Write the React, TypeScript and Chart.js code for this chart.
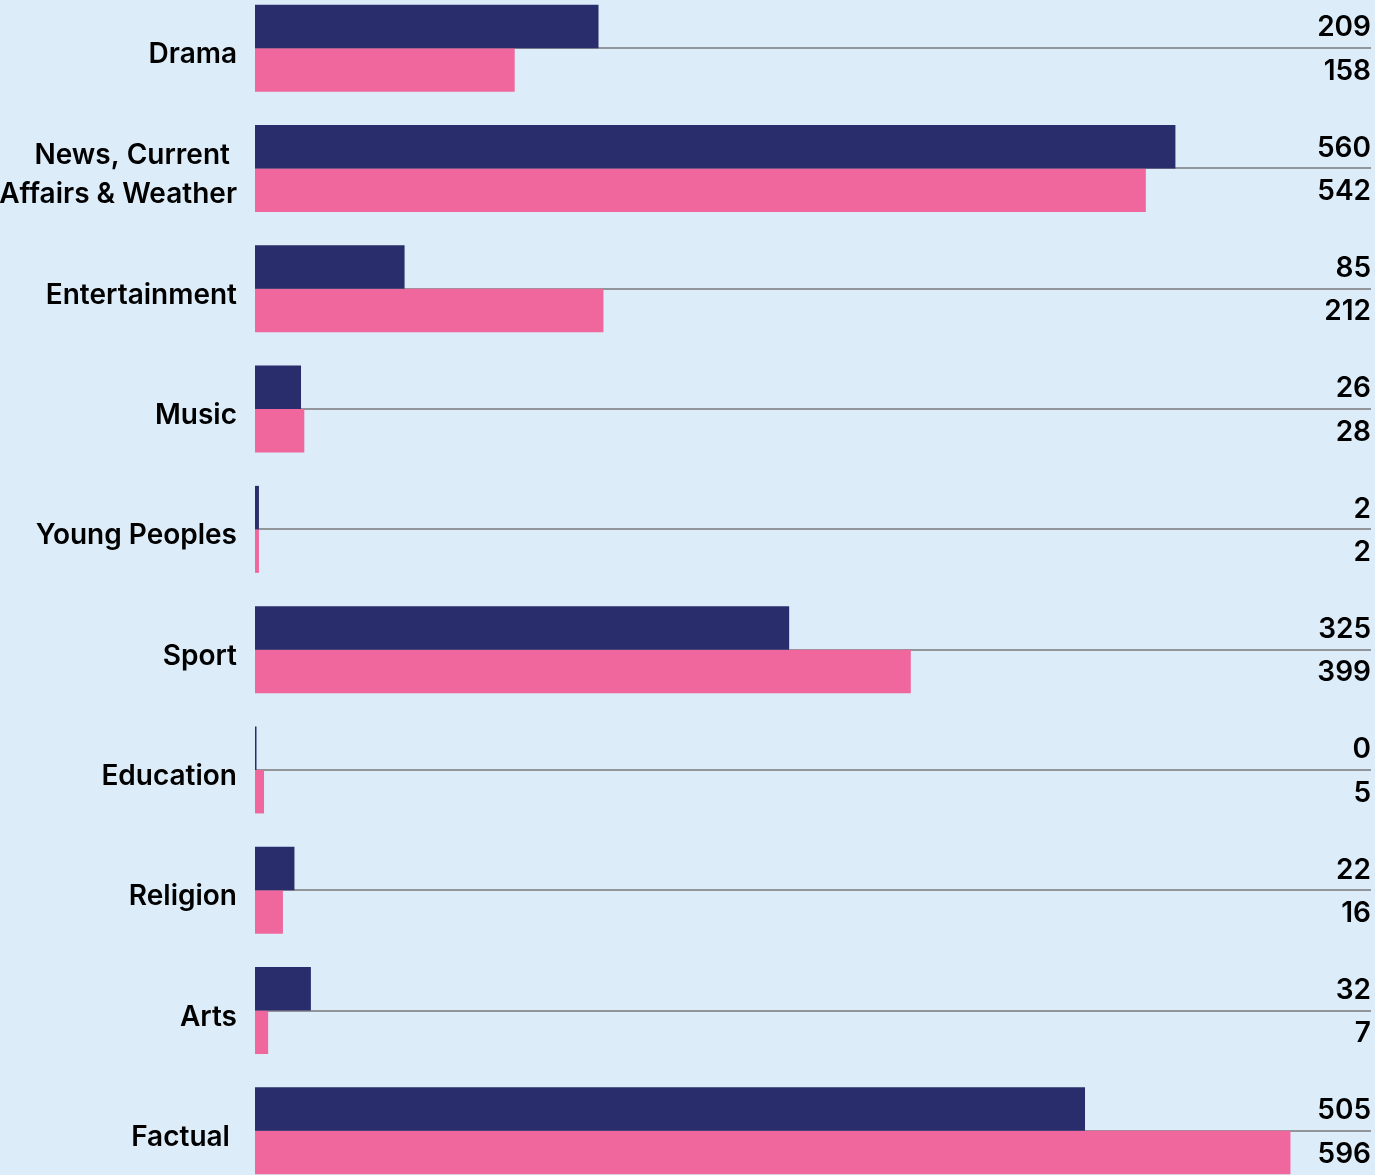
import React, { useEffect, useRef } from "react";
import { Chart, registerables } from "chart.js";

Chart.register(...registerables);

const categories: string[][] = [
  ["Drama"],
  ["News, Current ", "Affairs & Weather"],
  ["Entertainment"],
  ["Music"],
  ["Young Peoples"],
  ["Sport"],
  ["Education"],
  ["Religion"],
  ["Arts"],
  ["Factual "],
];

// bar lengths as drawn in the reference (navy series)
const seriesA = [209, 560, 91, 28, 2.4, 325, 0, 24, 34, 505];
// bar lengths as drawn in the reference (pink series)
const seriesB = [158, 542, 212, 30, 2.4, 399, 5.5, 17, 8, 630];

// printed value labels
const labelsA = ["209", "560", "85", "26", "2", "325", "0", "22", "32", "505"];
const labelsB = ["158", "542", "212", "28", "2", "399", "5", "16", "7", "596"];

const NAVY = "#292d6b";
const PINK = "#f0679e";
const BG = "#dcedf9";
const FONT = "Inter";

const textPlugin = {
  id: "texts",
  afterDatasetsDraw(chart: any) {
    const ctx = chart.ctx;
    const right = chart.chartArea.right;
    const yScale = chart.scales.y;
    ctx.save();
    ctx.font = `600 28px ${FONT}`;
    ctx.fillStyle = "#000";
    ctx.textBaseline = "alphabetic";
    ctx.textAlign = "right";
    categories.forEach((lines, i) => {
      const c = yScale.getPixelForValue(i);
      const n = lines.length;
      lines.forEach((line, k) => {
        ctx.fillText(line, 237, c + 15 + (k - (n - 1) / 2) * 39);
      });
    });
    const texts = [labelsA, labelsB];
    [0, 1].forEach((di) => {
      const meta = chart.getDatasetMeta(di);
      meta.data.forEach((el: any, i: number) => {
        ctx.fillText(texts[di][i], right, el.y + 10);
      });
    });
    ctx.restore();
  },
};

export default function App() {
  const ref = useRef<HTMLCanvasElement | null>(null);
  useEffect(() => {
    document.body.style.margin = "0";
    document.body.style.background = BG;
    const chart = new Chart(ref.current!, {
      type: "bar",
      data: {
        labels: categories.map((l) => l.join(" ")),
        datasets: [
          {
            data: seriesA,
            backgroundColor: NAVY,
            barPercentage: 1,
            categoryPercentage: 0.723,
            minBarLength: 1.5,
          },
          {
            data: seriesB,
            backgroundColor: PINK,
            barPercentage: 1,
            categoryPercentage: 0.723,
          },
        ],
      },
      options: {
        indexAxis: "y",
        responsive: false,
        animation: false,
        layout: { padding: { left: 0, right: 4, top: 0, bottom: 0 } },
        plugins: { legend: { display: false }, tooltip: { enabled: false } },
        scales: {
          x: { display: false, min: 0, max: 679 },
          y: {
            grid: {
              offset: false,
              color: "#929599",
              lineWidth: 2,
              drawTicks: false,
            },
            border: { display: false },
            ticks: { display: false },
            afterFit: (s: any) => {
              s.width = 255;
            },
          },
        },
      },
      plugins: [textPlugin],
    } as any);
    return () => chart.destroy();
  }, []);
  return (
    <div
      style={{
        position: "absolute",
        left: 0,
        top: 0,
        width: 1375,
        height: 1175,
        overflow: "hidden",
        background: BG,
      }}
    >
      <canvas
        ref={ref}
        width={1375}
        height={1203}
        style={{ position: "absolute", left: 0, top: -12 }}
      />
    </div>
  );
}
